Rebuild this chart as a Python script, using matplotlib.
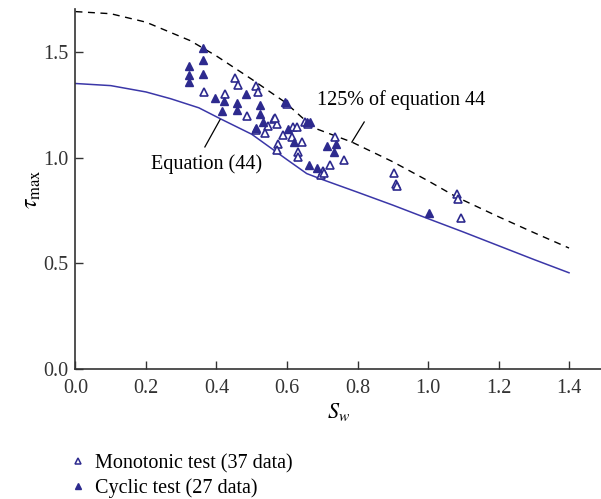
import numpy as np
import matplotlib
matplotlib.use('Agg')
import matplotlib.pyplot as plt
from matplotlib.lines import Line2D

# equation (44) curve
eq_s = [0.0, 0.1, 0.2, 0.27, 0.35, 0.41, 0.5, 0.55, 0.6, 0.656, 0.7, 0.8, 0.9, 1.0, 1.1, 1.2, 1.3, 1.4]
eq_tau = [1.35, 1.34, 1.31, 1.278, 1.235, 1.184, 1.11, 1.05, 0.99, 0.924, 0.896, 0.836, 0.775, 0.711, 0.648, 0.583, 0.518, 0.455]

# 125% of equation 44 (dashed)
up_s = [0.0, 0.1, 0.2, 0.325, 0.4, 0.5, 0.594, 0.675, 0.784, 0.9, 1.0, 1.081, 1.2, 1.3, 1.4]
up_tau = [1.69, 1.68, 1.64, 1.553, 1.48, 1.37, 1.262, 1.141, 1.073, 0.98, 0.89, 0.813, 0.72, 0.645, 0.572]

# monotonic tests (open triangles)
mono_s = [0.365, 0.452, 0.462, 0.424, 0.512, 0.519, 0.487, 0.563, 0.571, 0.547,
          0.512, 0.538, 0.618, 0.628, 0.59, 0.613, 0.642, 0.575, 0.571, 0.632,
          0.632, 0.722, 0.762, 0.703, 0.696, 0.65, 0.736, 0.904, 0.909, 0.913,
          1.081, 1.086, 1.093, 0.566, 0.6, 0.66, 0.705]
mono_tau = [1.309, 1.377, 1.341, 1.302, 1.336, 1.309, 1.194, 1.183, 1.157, 1.147,
            1.132, 1.116, 1.144, 1.144, 1.105, 1.097, 1.073, 1.062, 1.034, 1.026,
            1.002, 0.963, 0.987, 0.936, 0.916, 1.17, 1.097, 0.927, 0.877, 0.864,
            0.826, 0.803, 0.716, 1.188, 1.255, 1.16, 0.925]

# cyclic tests (filled triangles)
cyc_s = [0.363, 0.363, 0.363, 0.323, 0.323, 0.323, 0.396, 0.421, 0.484, 0.459,
         0.457, 0.415, 0.523, 0.523, 0.531, 0.512, 0.594, 0.604, 0.62, 0.656,
         0.664, 0.713, 0.738, 0.733, 0.663, 0.684, 1.003]
cyc_tau = [1.519, 1.46, 1.396, 1.435, 1.388, 1.357, 1.283, 1.267, 1.298, 1.257,
           1.226, 1.218, 1.25, 1.207, 1.168, 1.141, 1.262, 1.136, 1.073, 1.168,
           1.168, 1.053, 1.066, 1.026, 0.963, 0.952, 0.737]

navy = '#2d2a8e'
plt.rcParams['font.family'] = ['Liberation Serif', 'DejaVu Serif']
plt.rcParams['mathtext.fontset'] = 'stix'

fig = plt.figure(figsize=(6.01, 4.99), dpi=100)
ax = fig.add_axes([0.1256, 0.2605, 0.874, 0.7205])

ax.plot(eq_s, eq_tau, color='#3b37a8', linewidth=1.1)
ax.plot(up_s, up_tau, color='k', linewidth=1.0, linestyle=(0, (5, 4)))
ax.plot(mono_s, mono_tau, linestyle='none', marker='^', ms=5.5, mfc='white', mec=navy, mew=1.2)
ax.plot(cyc_s, cyc_tau, linestyle='none', marker='^', ms=6, mfc=navy, mec=navy)

# annotations
ax.text(0.925, 1.27, '125% of equation 44', fontsize=14.5, ha='center', va='center')
ax.plot([0.819, 0.784], [1.168, 1.073], color='k', linewidth=0.9)
ax.text(0.372, 0.97, 'Equation (44)', fontsize=14.5, ha='center', va='center')
ax.plot([0.367, 0.41], [1.05, 1.179], color='k', linewidth=0.9)

ax.set_xlim(0, 1.49)
ax.set_ylim(0, 1.7)
ax.set_xticks(np.arange(0, 1.41, 0.2))
ax.set_yticks([0.0, 0.5, 1.0, 1.5])
ax.xaxis.set_major_formatter(matplotlib.ticker.FormatStrFormatter('%.1f'))
ax.yaxis.set_major_formatter(matplotlib.ticker.FormatStrFormatter('%.1f'))
ax.tick_params(direction='in', length=6, width=1, labelsize=14.5, colors='#333333')
ax.tick_params(axis='x', pad=7)
ax.tick_params(axis='y', pad=5)
ax.spines['top'].set_visible(False)
ax.spines['right'].set_visible(False)
for s in ('left', 'bottom'):
    ax.spines[s].set_linewidth(1.2)
    ax.spines[s].set_color('#333333')

ax.set_xlabel(r'$S_w$', fontsize=16, labelpad=2)
ax.set_ylabel(r'$\tau_{\rm max}$', fontsize=17, labelpad=0)

handles = [Line2D([], [], linestyle='none', marker='^', ms=4.5, mfc='white', mec=navy, mew=1.1),
           Line2D([], [], linestyle='none', marker='^', ms=5, mfc=navy, mec=navy)]
fig.legend(handles, ['Monotonic test (37 data)', 'Cyclic test (27 data)'],
           loc='upper left', bbox_to_anchor=(0.1125, 0.09), frameon=False,
           borderpad=0, borderaxespad=0,
           fontsize=14.5, handlelength=1.0, handletextpad=0.35, labelspacing=0.25)

fig.savefig('out.png', dpi=100)
